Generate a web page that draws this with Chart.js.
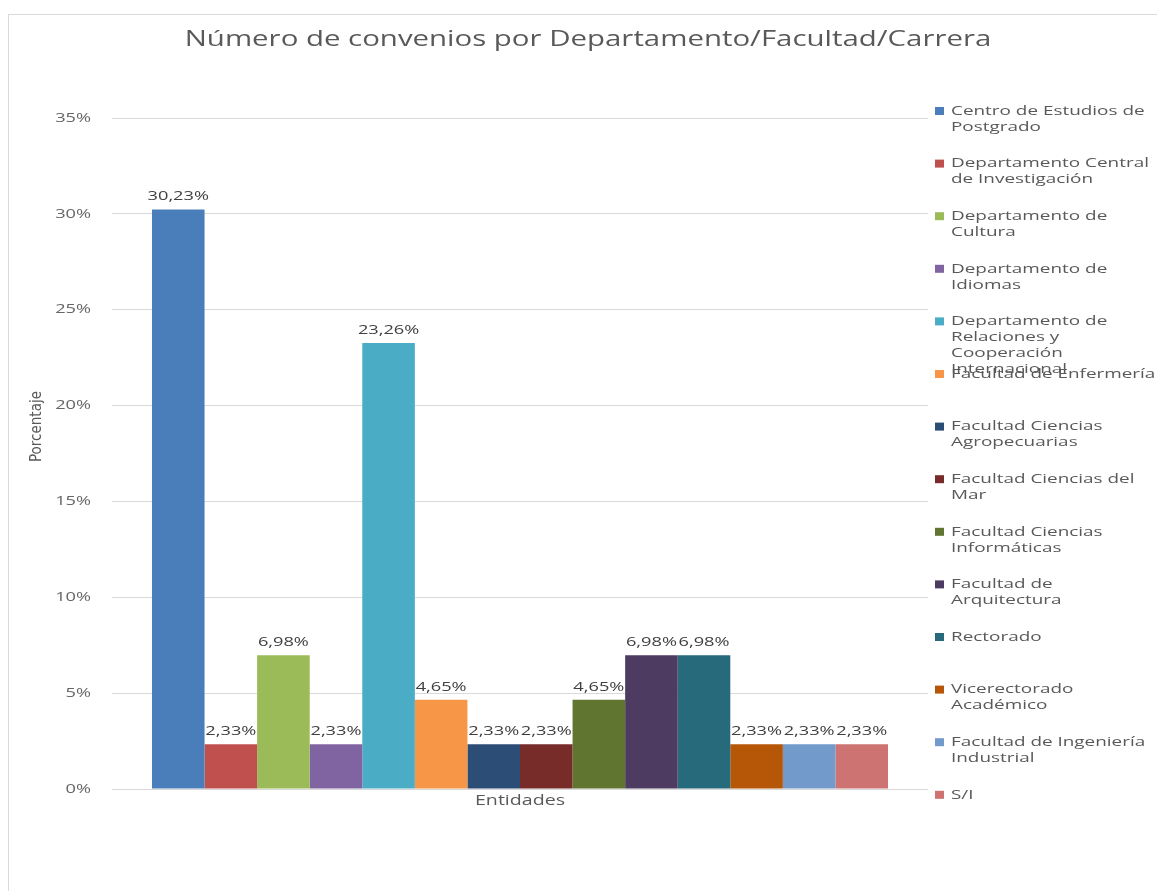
<!DOCTYPE html>
<html>
<head>
<meta charset="utf-8">
<title>Número de convenios por Departamento/Facultad/Carrera</title>
<script src="https://cdn.jsdelivr.net/npm/chart.js"></script>
<style>
  html, body { margin: 0; padding: 0; background: #fff; overflow: hidden; }
  #frame { position: absolute; left: 8px; top: 14px; width: 1250px; height: 950px; border: 1px solid #d9d9d9; }
  #chart { position: absolute; left: 0; top: 0; }
</style>
</head>
<body>
<div id="frame"></div>
<canvas id="chart" width="1157" height="891"></canvas>
<script>
const chartTitle = 'Número de convenios por Departamento/Facultad/Carrera';
const categories = ['Entidades'];
const yTitle = 'Porcentaje';
const yTicks = [0, 5, 10, 15, 20, 25, 30, 35];

// one series per entity, legend lines as in the original
const entities = [
    'Centro de Estudios de\nPostgrado',
    'Departamento Central\nde Investigación',
    'Departamento de\nCultura',
    'Departamento de\nIdiomas',
    'Departamento de\nRelaciones y\nCooperación\nInternacional',
    'Facultad de Enfermería',
    'Facultad Ciencias\nAgropecuarias',
    'Facultad Ciencias del\nMar',
    'Facultad Ciencias\nInformáticas',
    'Facultad de\nArquitectura',
    'Rectorado',
    'Vicerectorado\nAcadémico',
    'Facultad de Ingeniería\nIndustrial',
    'S/I'
];
const percentages = [30.23, 2.33, 6.98, 2.33, 23.26, 4.65, 2.33, 2.33, 4.65, 6.98, 6.98, 2.33, 2.33, 2.33];
const barColors = ['#4a7ebb', '#c0504d', '#9bbb59', '#8064a2', '#4bacc6', '#f79646', '#2c4d75',
    '#772c2a', '#5f7530', '#4d3b62', '#276a7c', '#b65708', '#729aca', '#cd7371'];

const TEXT = '#595959';
const STRETCH = 1.4;

function wideText(ctx, text, x, y, align, font, color) {
    ctx.save();
    ctx.font = font;
    ctx.fillStyle = color;
    ctx.textAlign = align;
    ctx.textBaseline = 'middle';
    ctx.translate(x, y);
    ctx.scale(STRETCH, 1);
    ctx.fillText(text, 0, 0);
    ctx.restore();
}

function fmt(v) {
    return v.toFixed(2).replace('.', ',') + '%';
}

const textPlugin = {
    id: 'excelText',
    afterDraw(chart) {
        const ctx = chart.ctx;
        const area = chart.chartArea;
        const y = chart.scales.y;
        const x = chart.scales.x;

        // title
        wideText(ctx, chartTitle, 588, 40, 'center', '21px "Open Sans"', TEXT);

        // y ticks
        y.ticks.forEach(t => {
            wideText(ctx, t.value + '%', area.left - 21, y.getPixelForValue(t.value), 'right', '13px "Open Sans"', '#666666');
        });

        // y title
        ctx.save();
        ctx.translate(37, (area.top + area.bottom) / 2 - 27);
        ctx.rotate(-Math.PI / 2);
        ctx.font = '15px "Liberation Sans Narrow", "DejaVu Sans Condensed", sans-serif';
        ctx.fillStyle = TEXT;
        ctx.textAlign = 'center';
        ctx.textBaseline = 'middle';
        ctx.fillText(yTitle, 0, 0);
        ctx.restore();

        // category label
        categories.forEach((c, i) => {
            wideText(ctx, c, x.getPixelForValue(i), area.bottom + 12, 'center', '14px "Open Sans"', TEXT);
        });

        // data labels
        chart.data.datasets.forEach((ds, i) => {
            chart.getDatasetMeta(i).data.forEach((bar, j) => {
                wideText(ctx, fmt(ds.data[j]), bar.x, bar.y - 13, 'center', '13px "Open Sans"', '#404040');
            });
        });

        // legend
        const top = 111, step = 52.6, lineH = 16;
        chart.data.datasets.forEach((ds, i) => {
            const ly = top + i * step;
            ctx.fillStyle = ds.backgroundColor;
            ctx.fillRect(935, ly - 4, 9, 8);
            ds.label.split('\n').forEach((line, k) => {
                wideText(ctx, line, 951, ly + k * lineH, 'left', '13.5px "Open Sans"', TEXT);
            });
        });
    }
};

new Chart(document.getElementById('chart'), {
    type: 'bar',
    data: {
        labels: categories,
        datasets: entities.map((name, i) => ({
            label: name,
            data: [percentages[i]],
            backgroundColor: barColors[i],
            borderWidth: 0
        }))
    },
    options: {
        responsive: false,
        animation: false,
        layout: { padding: { left: 112, right: 229, top: 118, bottom: 102 } },
        categoryPercentage: 0.902,
        barPercentage: 1,
        plugins: {
            legend: { display: false },
            title: { display: false },
            tooltip: { enabled: false }
        },
        scales: {
            x: { display: false },
            y: {
                min: 0,
                max: 35,
                afterBuildTicks: s => { s.ticks = yTicks.map(v => ({ value: v })); },
                afterFit: s => { s.width = 0; },
                ticks: { display: false },
                border: { display: false },
                grid: { color: '#d9d9d9', drawTicks: false }
            }
        }
    },
    plugins: [textPlugin]
});
</script>
</body>
</html>
